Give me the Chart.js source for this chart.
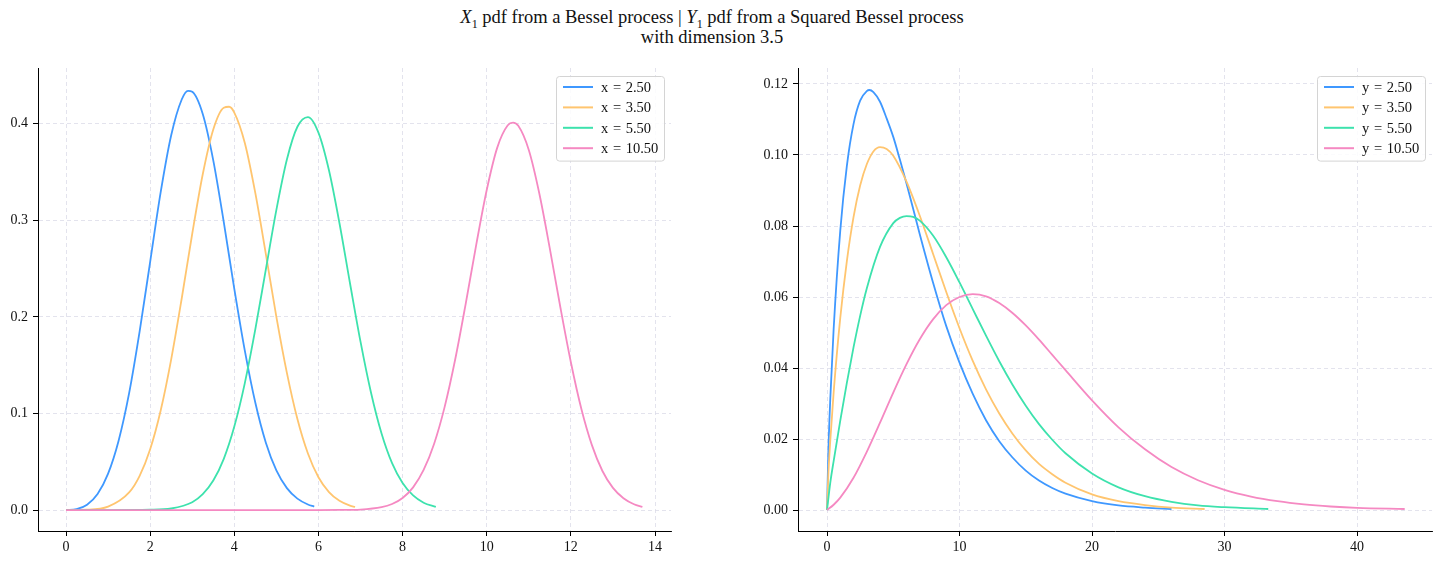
<!DOCTYPE html>
<html>
<head>
<meta charset="utf-8">
<script src="https://cdn.jsdelivr.net/npm/chart.js@4.4.0/dist/chart.umd.min.js"></script>
<style>
    html, body { margin: 0; padding: 0; background: #fff; }
    body { width: 1442px; height: 564px; position: relative; overflow: hidden; font-family: "Liberation Serif", serif; }
    #suptitle { position: absolute; left: 362px; width: 700px; top: 7px; text-align: center; font-size: 18.5px; line-height: 20px; color: #111; }
    #suptitle sub { font-size: 12px; line-height: 0; }
    canvas { position: absolute; }
    #besselChart { left: 0; top: 60px; }
    #squaredChart { left: 740px; top: 60px; }
</style>
</head>
<body>
<div id="suptitle"><i>X</i><sub>1</sub> pdf from a Bessel process | <i>Y</i><sub>1</sub> pdf from a Squared Bessel process<br>with dimension 3.5</div>
<canvas id="besselChart" width="690" height="504"></canvas>
<canvas id="squaredChart" width="702" height="504"></canvas>
<script>
// ---- data ----
const startValues = [2.5, 3.5, 5.5, 10.5];
const lineColors = ['#3f98ff', '#ffc56f', '#3de2ad', '#f589c2'];

// left panel: X_1 pdf (Bessel process)
const besselX = [
    [0, 0.25, 0.5, 0.75, 1, 1.25, 1.5, 1.75, 2, 2.25, 2.5, 2.75, 2.9, 3, 3.25, 3.5, 3.75, 4, 4.25, 4.5, 4.75, 5, 5.25, 5.5, 5.75, 5.9],
    [0, 0.5, 1, 1.5, 1.75, 2, 2.25, 2.5, 2.75, 3, 3.25, 3.5, 3.75, 3.875, 4, 4.25, 4.5, 4.75, 5, 5.25, 5.5, 5.75, 6, 6.25, 6.5, 6.75, 6.87],
    [0, 1, 2, 2.5, 3, 3.25, 3.5, 3.75, 4, 4.25, 4.5, 4.75, 5, 5.25, 5.5, 5.75, 6, 6.25, 6.5, 6.75, 7, 7.25, 7.5, 7.75, 8, 8.25, 8.5, 8.79],
    [0, 2, 4, 6, 6.5, 7, 7.5, 7.75, 8, 8.25, 8.5, 8.75, 9, 9.25, 9.5, 9.75, 10, 10.25, 10.5, 10.625, 10.75, 11, 11.25, 11.5, 11.75, 12, 12.25, 12.5, 12.75, 13, 13.25, 13.5, 13.7]
];
const besselPdf = [
    [0, 0.0009, 0.0055, 0.0166, 0.0377, 0.0718, 0.121, 0.185, 0.257, 0.329, 0.388, 0.425, 0.434, 0.433, 0.410, 0.362, 0.298, 0.229, 0.165, 0.111, 0.0697, 0.041, 0.0227, 0.0118, 0.0057, 0.0036],
    [0, 0.0003, 0.0035, 0.0182, 0.0354, 0.0629, 0.103, 0.156, 0.219, 0.286, 0.3476, 0.394, 0.4165, 0.4175, 0.4115, 0.380, 0.328, 0.265, 0.200, 0.142, 0.0942, 0.0585, 0.034, 0.0186, 0.0095, 0.0045, 0.0032],
    [0, 0, 0.0003, 0.0016, 0.0081, 0.0164, 0.0305, 0.053, 0.0864, 0.1314, 0.1872, 0.2492, 0.3107, 0.3629, 0.3968, 0.4068, 0.3907, 0.3517, 0.2969, 0.2348, 0.1743, 0.1214, 0.0792, 0.0485, 0.028, 0.0151, 0.0076, 0.0032],
    [0, 0, 0, 0, 0.0001, 0.0005, 0.0029, 0.0062, 0.0125, 0.0235, 0.0415, 0.0687, 0.1068, 0.1558, 0.2135, 0.2745, 0.3313, 0.3752, 0.3983, 0.401, 0.3977, 0.3727, 0.3277, 0.2707, 0.2099, 0.153, 0.1046, 0.0672, 0.0404, 0.0229, 0.0122, 0.006, 0.0033]
];

// right panel: Y_1 pdf (squared Bessel process)
const squaredX = [
    [0, 0.1, 0.25, 0.5, 1, 1.5, 2, 2.5, 3, 3.2, 3.5, 4, 4.5, 5, 5.5, 6, 7, 8, 9, 10, 11, 12, 13, 14, 15, 16, 17, 18, 20, 22, 24, 26],
    [0, 0.1, 0.25, 0.5, 1, 1.5, 2, 2.5, 3, 3.5, 4, 4.5, 5, 6, 7, 8, 9, 10, 11, 12, 13, 14, 15, 16, 17, 18, 20, 22, 24, 26, 28.5],
    [0, 0.25, 0.5, 1, 1.5, 2, 2.5, 3, 4, 5, 5.5, 6, 6.5, 7, 8, 9, 10, 11, 12, 13, 14, 15, 16, 17, 18, 20, 22, 24, 26, 28, 30, 33.3],
    [0, 0.5, 1, 2, 3, 4, 5, 6, 7, 8, 9, 10, 11, 12, 13, 14, 15, 16, 17, 18, 20, 22, 24, 26, 28, 30, 32, 34, 36, 38, 40, 43.6]
];
const squaredPdf = [
    [0, 0.0162, 0.0316, 0.051, 0.0787, 0.097, 0.1087, 0.1153, 0.118, 0.1183, 0.1177, 0.115, 0.1103, 0.1051, 0.0987, 0.092, 0.0777, 0.0641, 0.0518, 0.0415, 0.0327, 0.0253, 0.0194, 0.0148, 0.0111, 0.0083, 0.0062, 0.0046, 0.0025, 0.0013, 0.0007, 0.0003],
    [0, 0.01, 0.0198, 0.0331, 0.0541, 0.0702, 0.0825, 0.0914, 0.0974, 0.101, 0.1022, 0.1017, 0.0998, 0.0925, 0.0829, 0.0722, 0.0614, 0.0512, 0.042, 0.034, 0.0272, 0.0215, 0.0168, 0.013, 0.0101, 0.0077, 0.0044, 0.0025, 0.0014, 0.0007, 0.0003],
    [0, 0.0078, 0.0138, 0.0252, 0.0359, 0.0458, 0.0547, 0.0624, 0.0741, 0.0808, 0.0823, 0.0828, 0.0826, 0.0815, 0.0773, 0.0712, 0.0641, 0.0566, 0.0491, 0.0419, 0.0353, 0.0294, 0.0242, 0.0198, 0.016, 0.0103, 0.0064, 0.0039, 0.0023, 0.0013, 0.0008, 0.0003],
    [0, 0.0015, 0.0035, 0.0091, 0.0164, 0.0246, 0.0331, 0.0411, 0.0481, 0.0537, 0.0577, 0.06, 0.0608, 0.0602, 0.0583, 0.0555, 0.052, 0.048, 0.0437, 0.0394, 0.0309, 0.0233, 0.0171, 0.0121, 0.0084, 0.0057, 0.0038, 0.0025, 0.0016, 0.001, 0.0006, 0.0003]
];

const GRID = '#dcdce8';
const FONT = { family: '"Liberation Serif", serif', size: 14 };

/**
 * Legend drawn as a framed box in the upper right corner of the plot area.
 */
const boxLegend = {
    id: 'boxLegend',
    afterDraw(chart) {
        const { ctx, chartArea } = chart;
        const sets = chart.data.datasets;
        const w = 108, rowH = 20.4;
        const h = sets.length * rowH + 3;
        const x0 = chartArea.right - 7 - w;
        const y0 = chartArea.top + 8;
        ctx.save();
        ctx.fillStyle = 'rgba(255,255,255,0.85)';
        ctx.strokeStyle = '#d4d4d4';
        ctx.lineWidth = 1;
        ctx.beginPath();
        ctx.roundRect(x0 + 0.5, y0 + 0.5, w, h, 3);
        ctx.fill();
        ctx.stroke();
        ctx.font = '14.5px ' + FONT.family;
        ctx.wordSpacing = '1px';
        ctx.textBaseline = 'middle';
        sets.forEach((d, i) => {
            const yy = y0 + 11 + i * rowH;
            ctx.strokeStyle = d.borderColor;
            ctx.lineWidth = 2;
            ctx.beginPath();
            ctx.moveTo(x0 + 7, yy);
            ctx.lineTo(x0 + 37, yy);
            ctx.stroke();
            ctx.fillStyle = '#111';
            ctx.fillText(d.label, x0 + 45, yy + 1);
        });
        ctx.restore();
    }
};

function axis(min, max, step, digits, size, isX) {
    return {
        type: 'linear',
        min: min,
        max: max,
        afterFit: s => {
            if (isX) { s.height = size; } else { s.width = size; }
            // keep the plot area exactly where the layout padding puts it
            s.paddingTop = 0; s.paddingBottom = 0; s.paddingLeft = 0; s.paddingRight = 0;
        },
        grid: { color: GRID, lineWidth: 0.8, drawTicks: true, tickLength: 5, tickColor: '#000', tickWidth: 1 },
        border: { display: true, color: '#000', width: 1, dash: [4, 3] },
        ticks: {
            stepSize: step,
            includeBounds: false,
            color: '#111',
            font: FONT,
            padding: isX ? 3 : 5,
            maxRotation: 0,
            autoSkip: false,
            callback: v => v.toFixed(digits)
        }
    };
}

function buildDatasets(prefix, xs, ys) {
    return startValues.map((s, i) => ({
        label: prefix + ' = ' + s.toFixed(2),
        data: xs[i].map((x, j) => ({ x: x, y: ys[i][j] })),
        borderColor: lineColors[i],
        backgroundColor: lineColors[i],
        borderWidth: 1.8,
        pointRadius: 0,
        fill: false,
        cubicInterpolationMode: 'monotone',
        order: startValues.length - i
    }));
}

function renderPanel(canvasId, datasets, xAxis, yAxis, padRight) {
    new Chart(document.getElementById(canvasId), {
        type: 'line',
        data: { datasets: datasets },
        options: {
            responsive: false,
            animation: false,
            devicePixelRatio: 1,
            layout: { padding: { top: 8, right: padRight, left: 0, bottom: 0 } },
            plugins: { legend: { display: false }, tooltip: { enabled: false } },
            scales: { x: xAxis, y: yAxis }
        },
        plugins: [boxLegend]
    });
}

renderPanel('besselChart', buildDatasets('x', besselX, besselPdf),
    axis(-0.666, 14.38, 2, 0, 33, true),
    axis(-0.0217, 0.4576, 0.1, 1, 38, false), 19);

renderPanel('squaredChart', buildDatasets('y', squaredX, squaredPdf),
    axis(-2.19, 45.66, 10, 0, 33, true),
    axis(-0.0059, 0.1245, 0.02, 2, 58, false), 10);
</script>
</body>
</html>
